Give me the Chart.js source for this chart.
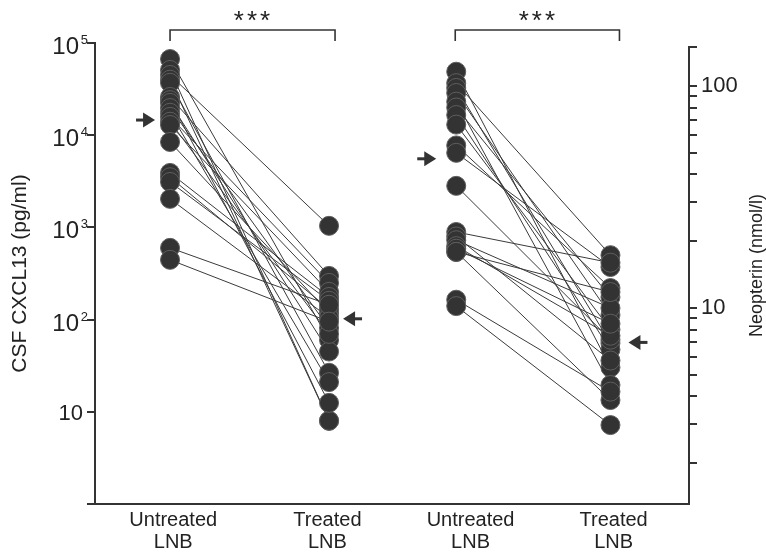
<!DOCTYPE html>
<html><head><meta charset="utf-8">
<script src="https://cdn.jsdelivr.net/npm/chart.js@4.4.1/dist/chart.umd.min.js"></script>
<style>html,body{margin:0;padding:0;background:#fff;}canvas{display:block;}</style>
</head><body>
<canvas id="c" width="766" height="554"></canvas>
<script>
// ---- data ----
const categories = ['Untreated LNB', 'Treated LNB'];
const cxcl13Untreated = [67000, 51000, 45000, 40000, 37000, 26000, 24000, 22400, 19700, 17500, 15800, 14000, 12900, 8450, 3900, 3500, 3110, 2040, 600, 445];
const cxcl13Treated   = [60, 8, 1040, 8, 26.5, 298, 12.5, 45, 81, 21, 250, 70, 200, 118, 176, 130, 160, 105, 145, 95];
const neopterinUntreated = [116, 103, 98, 93, 85, 80, 74, 67, 54, 50, 35.5, 22, 21, 20.2, 19, 18.5, 17.9, 17.9, 10.9, 10.2];
const neopterinTreated   = [5.4, 17.3, 6.95, 9.3, 4.5, 11.2, 6.5, 8.0, 12.3, 15.3, 7.2, 16, 5.8, 10, 7.5, 8.5, 3.85, 11.8, 4.2, 2.97];
const cxcl13Medians = [14600, 102];
const neopterinMedians = [47, 7.0];
const cxcl13Ticks = [1, 10, 100, 1000, 10000, 100000];
const neopterinTicks = [2, 3, 4, 5, 6, 7, 8, 9, 10, 20, 30, 40, 50, 60, 70, 80, 90, 100, 150];
const neopterinLabelled = [10, 100];
const significance = ['***', '***'];
const yTitleLeft = 'CSF CXCL13 (pg/ml)';
const yTitleRight = 'Neopterin (nmol/l)';

// ---- layout (not data) ----
const FONT = '"Liberation Sans", Arial, Helvetica, sans-serif';
const slotX = [0, 1, 1.8, 2.77];        // group positions on the x scale
const labelX = [0.02, 0.99, 1.89, 2.79];
const INK = '#333333';

function pairLines(un, tr, x0, x1, axis) {
  return un.map((u, i) => ({
    type: 'line', data: [{x: x0, y: u}, {x: x1, y: tr[i]}], yAxisID: axis,
    borderColor: '#3a3a3a', borderWidth: 1, pointRadius: 0, order: 2, fill: false
  }));
}
function dots(vals, x, axis) {
  return {
    type: 'line', showLine: false, data: vals.map(v => ({x: x, y: v})), yAxisID: axis,
    pointRadius: 9.5, pointBackgroundColor: '#333333', pointBorderColor: '#5e5e5e',
    pointBorderWidth: 1, order: 1
  };
}

const datasets = [
  ...pairLines(cxcl13Untreated, cxcl13Treated, slotX[0], slotX[1], 'yL'),
  ...pairLines(neopterinUntreated, neopterinTreated, slotX[2], slotX[3], 'yR'),
  dots(cxcl13Untreated, slotX[0], 'yL'),
  dots(cxcl13Treated, slotX[1], 'yL'),
  dots(neopterinUntreated, slotX[2], 'yR'),
  dots(neopterinTreated, slotX[3], 'yR')
];

const decor = {
  id: 'decor',
  afterDraw(chart) {
    const ctx = chart.ctx, x = chart.scales.x, yL = chart.scales.yL, yR = chart.scales.yR;
    const area = chart.chartArea;
    ctx.save();
    ctx.fillStyle = '#222'; ctx.strokeStyle = INK;
    // left tick labels with superscript exponents
    cxcl13Ticks.forEach(v => {
      if (v < 10) return;
      const y = yL.getPixelForValue(v);
      const e = Math.round(Math.log10(v));
      ctx.textAlign = 'right'; ctx.textBaseline = 'alphabetic';
      if (e === 1) {
        ctx.font = '22px ' + FONT;
        ctx.fillText('10', 83, y + 8);
      } else {
        ctx.font = '13px ' + FONT;
        ctx.fillText(String(e), 88, y + 1);
        ctx.font = '24px ' + FONT;
        ctx.fillText('10', 79, y + 11);
      }
    });
    // right axis line
    ctx.lineWidth = 2;
    ctx.beginPath();
    ctx.moveTo(area.right, yR.getPixelForValue(150) - 1);
    ctx.lineTo(area.right, area.bottom + 1);
    ctx.stroke();
    // right title
    ctx.save();
    ctx.translate(757, (area.top + area.bottom) / 2 - 8);
    ctx.rotate(-Math.PI / 2);
    ctx.textAlign = 'center'; ctx.textBaseline = 'middle';
    ctx.font = '18px ' + FONT;
    ctx.fillText(yTitleRight, 0, 0);
    ctx.restore();
    // brackets and stars
    const brackets = [[x.getPixelForValue(slotX[0]), x.getPixelForValue(slotX[1]) + 6],
                      [x.getPixelForValue(slotX[2]) - 1, x.getPixelForValue(slotX[3]) + 9]];
    ctx.lineWidth = 1.6;
    brackets.forEach((b, i) => {
      ctx.beginPath();
      ctx.moveTo(b[0], 41); ctx.lineTo(b[0], 30); ctx.lineTo(b[1], 30); ctx.lineTo(b[1], 41);
      ctx.stroke();
      ctx.font = '26px ' + FONT; ctx.textAlign = 'center'; ctx.textBaseline = 'middle';
      try { ctx.letterSpacing = '3px'; } catch (err) {}
      ctx.fillText(significance[i], (b[0] + b[1]) / 2 + 1, 22);
      try { ctx.letterSpacing = '0px'; } catch (err) {}
    });
    // median arrows
    function arrow(tipX, y, dir) {
      ctx.fillStyle = INK;
      ctx.beginPath();
      ctx.moveTo(tipX, y);
      ctx.lineTo(tipX - dir * 12, y - 7.5);
      ctx.lineTo(tipX - dir * 12, y + 7.5);
      ctx.closePath(); ctx.fill();
      ctx.fillRect(dir > 0 ? tipX - 19 : tipX + 11, y - 1.5, 8, 3);
    }
    arrow(x.getPixelForValue(slotX[0]) - 15, yL.getPixelForValue(cxcl13Medians[0]), 1);
    arrow(x.getPixelForValue(slotX[1]) + 14, yL.getPixelForValue(cxcl13Medians[1]), -1);
    arrow(x.getPixelForValue(slotX[2]) - 20, yR.getPixelForValue(neopterinMedians[0]), 1);
    arrow(x.getPixelForValue(slotX[3]) + 18, yR.getPixelForValue(neopterinMedians[1]), -1);
    ctx.restore();
  }
};

new Chart(document.getElementById('c'), {
  type: 'line',
  data: { datasets },
  options: {
    responsive: false, animation: false, events: [],
    layout: { padding: { top: 43, left: 0, right: 0, bottom: 0 } },
    plugins: { legend: { display: false }, tooltip: { enabled: false } },
    scales: {
      x: {
        type: 'linear', min: -0.472, max: 3.264,
        afterBuildTicks: s => { s.ticks = labelX.map(v => ({value: v})); },
        afterFit: s => { s.height = 50; },
        grid: { display: false, drawTicks: false },
        border: { display: true, color: INK, width: 2 },
        ticks: {
          autoSkip: false, maxRotation: 0, minRotation: 0, padding: 5,
          color: '#222', font: { family: FONT, size: 20, lineHeight: 1.1 },
          callback: (v, i) => categories[i % 2].split(' ')
        }
      },
      yL: {
        type: 'logarithmic', position: 'left', min: 1, max: 100000,
        afterBuildTicks: s => { s.ticks = cxcl13Ticks.map(v => ({value: v})); },
        afterFit: s => { s.width = 95; },
        grid: { display: true, drawOnChartArea: false, drawTicks: true, tickLength: 8, color: INK, lineWidth: 2 },
        border: { display: true, color: INK, width: 2 },
        ticks: { autoSkip: false, callback: () => '', font: { family: FONT, size: 20 } },
        title: { display: true, text: yTitleLeft, color: '#222', font: { family: FONT, size: 21 }, padding: { top: 8, bottom: 0 } }
      },
      yR: {
        type: 'logarithmic', position: 'right', min: 1.31, max: 156.2,
        afterBuildTicks: s => { s.ticks = neopterinTicks.map(v => ({value: v})); },
        afterFit: s => { s.width = 77; },
        grid: { display: true, drawOnChartArea: false, drawTicks: true, tickLength: 8, color: INK, lineWidth: 2 },
        border: { display: false },
        ticks: {
          autoSkip: false, padding: 4, color: '#222', font: { family: FONT, size: 22 },
          callback: v => neopterinLabelled.includes(v) ? String(v) : ''
        }
      }
    }
  },
  plugins: [decor]
});
</script>
</body></html>
